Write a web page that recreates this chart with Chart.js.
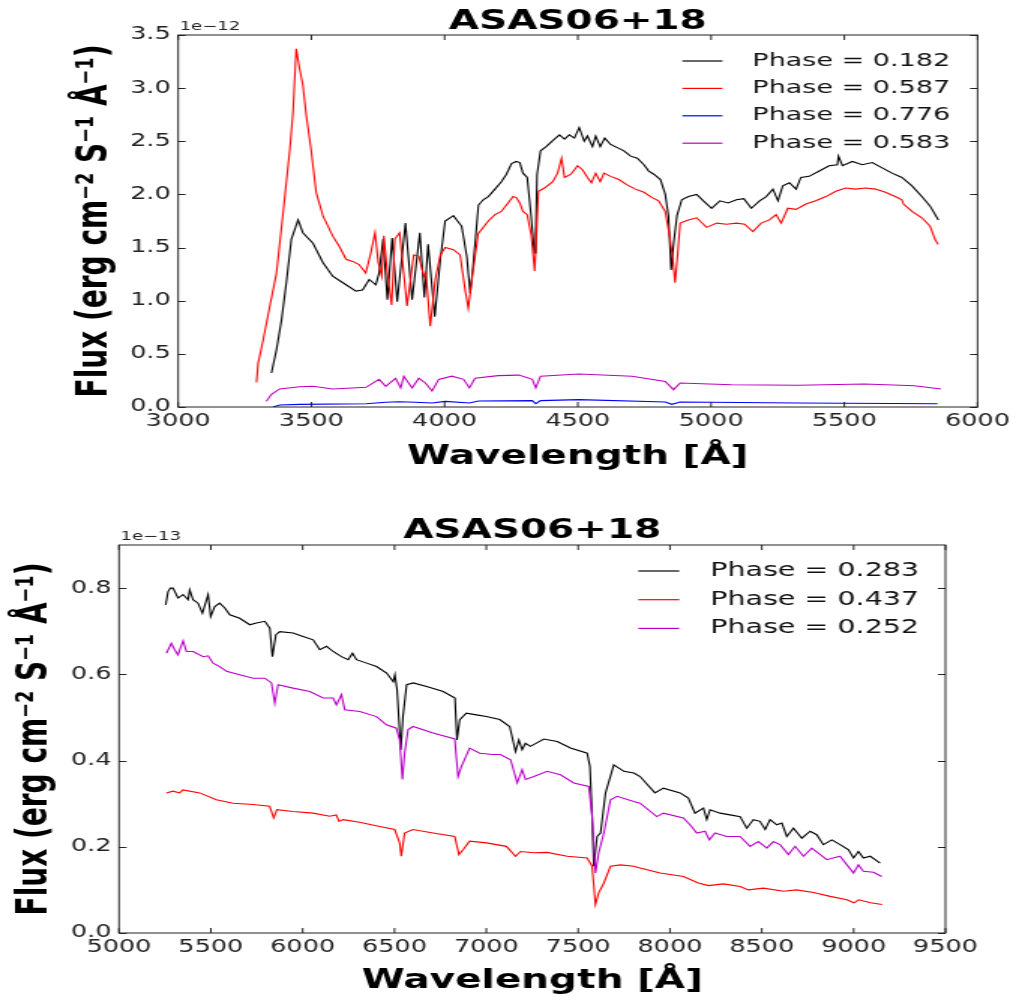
<!DOCTYPE html>
<html>
<head>
<meta charset="utf-8">
<title>ASAS06+18</title>
<script src="https://cdn.jsdelivr.net/npm/chart.js@4.4.1/dist/chart.umd.min.js"></script>
<style>
    html, body { margin: 0; padding: 0; background: #fff; }
    #wrap { position: relative; width: 1016px; height: 1000px; }
    canvas { position: absolute; left: 0; }
</style>
</head>
<body>
<div id="wrap">
    <!-- the source figure is stretched sideways, so draw narrow and let css widen it -->
    <canvas id="topChart" width="677" height="500" style="top:0;width:1016px;height:500px"></canvas>
    <canvas id="bottomChart" width="677" height="500" style="top:500px;width:1016px;height:500px"></canvas>
</div>
<script>
// ---- upper panel (flux in 1e-12) ----
const xTicksTop = [3000, 3500, 4000, 4500, 5000, 5500, 6000];
const yTicksTop = [0.0, 0.5, 1.0, 1.5, 2.0, 2.5, 3.0, 3.5];
const labelsTop = ['Phase = 0.182', 'Phase = 0.587', 'Phase = 0.776', 'Phase = 0.583'];

const wlTop182 = [3350, 3369, 3388, 3406, 3425, 3450, 3468, 3506, 3543, 3580,
    3630, 3667, 3692, 3717, 3742, 3754, 3769, 3785, 3803, 3822,
    3853, 3878, 3907, 3924, 3938, 3963, 3984, 4002, 4033, 4064,
    4083, 4096, 4108, 4127, 4145, 4164, 4189, 4213, 4232, 4251,
    4269, 4282, 4294, 4310, 4323, 4331, 4337, 4342, 4347, 4360,
    4381, 4412, 4431, 4450, 4468, 4487, 4505, 4524, 4536, 4555,
    4567, 4584, 4601, 4623, 4648, 4673, 4698, 4723, 4748, 4766,
    4785, 4810, 4828, 4840, 4850, 4860, 4872, 4890, 4915, 4946,
    4971, 5002, 5033, 5064, 5095, 5123, 5151, 5182, 5207, 5232,
    5251, 5269, 5294, 5319, 5337, 5368, 5406, 5443, 5474, 5478,
    5493, 5530, 5567, 5605, 5642, 5679, 5716, 5754, 5791, 5822,
    5853];
const fluxTop182 = [0.32, 0.54, 0.82, 1.17, 1.58, 1.76, 1.64, 1.54, 1.36, 1.23,
    1.15, 1.09, 1.10, 1.20, 1.15, 1.26, 1.58, 1.01, 1.59, 0.99,
    1.73, 1.01, 1.64, 1.03, 1.53, 0.85, 1.39, 1.75, 1.80, 1.70,
    1.42, 1.07, 1.36, 1.90, 1.95, 1.98, 2.05, 2.12, 2.19, 2.29,
    2.31, 2.30, 2.20, 2.16, 1.84, 1.62, 1.45, 1.64, 2.19, 2.41,
    2.45, 2.52, 2.56, 2.52, 2.56, 2.53, 2.63, 2.50, 2.55, 2.45,
    2.55, 2.45, 2.53, 2.47, 2.44, 2.41, 2.36, 2.34, 2.28, 2.22,
    2.19, 2.14, 2.00, 1.80, 1.29, 1.55, 1.80, 1.95, 1.98, 2.00,
    1.94, 1.87, 1.94, 1.92, 1.95, 1.96, 1.87, 1.94, 1.98, 2.05,
    1.94, 2.08, 2.11, 2.05, 2.16, 2.17, 2.22, 2.27, 2.28, 2.36,
    2.27, 2.31, 2.28, 2.30, 2.25, 2.20, 2.16, 2.08, 1.98, 1.89,
    1.76];

const wlTop587 = [3294, 3300, 3319, 3344, 3369, 3394, 3419, 3431, 3443, 3456,
    3468, 3481, 3499, 3518, 3543, 3580, 3605, 3630, 3655, 3679,
    3704, 3723, 3739, 3751, 3764, 3772, 3785, 3801, 3813, 3831,
    3859, 3884, 3903, 3922, 3930, 3946, 3965, 3984, 4002, 4033,
    4058, 4077, 4089, 4104, 4126, 4164, 4189, 4213, 4238, 4257,
    4269, 4282, 4294, 4310, 4325, 4338, 4345, 4352, 4375, 4406,
    4424, 4439, 4450, 4474, 4499, 4518, 4536, 4551, 4567, 4584,
    4598, 4623, 4654, 4685, 4716, 4748, 4779, 4803, 4828, 4845,
    4856, 4865, 4875, 4884, 4915, 4946, 4983, 5021, 5058, 5095,
    5126, 5157, 5188, 5219, 5244, 5263, 5288, 5319, 5356, 5393,
    5431, 5468, 5505, 5542, 5580, 5617, 5654, 5691, 5716, 5722,
    5754, 5791, 5822, 5840, 5852];
const fluxTop587 = [0.23, 0.41, 0.63, 0.95, 1.26, 1.83, 2.42, 2.77, 3.37, 3.18,
    3.03, 2.74, 2.42, 2.02, 1.80, 1.61, 1.51, 1.39, 1.37, 1.34,
    1.26, 1.45, 1.64, 1.36, 1.23, 1.61, 1.26, 0.96, 1.58, 1.64,
    0.95, 1.43, 1.42, 1.23, 1.26, 0.76, 1.20, 1.43, 1.50, 1.48,
    1.43, 1.10, 0.93, 1.23, 1.63, 1.75, 1.81, 1.84, 1.92, 1.98,
    1.97, 1.92, 1.84, 1.81, 1.62, 1.28, 1.64, 2.03, 2.06, 2.12,
    2.20, 2.34, 2.16, 2.19, 2.27, 2.23, 2.16, 2.11, 2.20, 2.12,
    2.20, 2.17, 2.14, 2.09, 2.05, 2.02, 1.97, 1.94, 1.84, 1.60,
    1.40, 1.17, 1.45, 1.73, 1.76, 1.78, 1.69, 1.73, 1.72, 1.73,
    1.72, 1.65, 1.73, 1.76, 1.81, 1.73, 1.87, 1.86, 1.91, 1.94,
    1.98, 2.03, 2.06, 2.05, 2.06, 2.05, 2.02, 1.98, 1.95, 1.91,
    1.84, 1.78, 1.70, 1.58, 1.53];

const wlTop776 = [3356, 3381, 3456, 3705, 3779, 3829, 3891, 3953, 4002, 4093, 4127, 4329, 4342, 4360, 4504, 4828, 4853, 4884, 5327, 5850];
const fluxTop776 = [0.0, 0.019, 0.025, 0.031, 0.044, 0.05, 0.044, 0.038, 0.053, 0.038, 0.056, 0.06, 0.031, 0.06, 0.069, 0.047, 0.025, 0.047, 0.038, 0.031];

const wlTop583 = [3331, 3350, 3381, 3456, 3506, 3580, 3705, 3754, 3779, 3816, 3835, 3847, 3878, 3903, 3928, 3953, 3978, 4027, 4071, 4093,
    4114, 4201, 4279, 4329, 4342, 4360, 4504, 4703, 4828, 4859, 4884, 5077, 5327, 5576, 5763, 5863];
const fluxTop583 = [0.053, 0.12, 0.17, 0.19, 0.195, 0.17, 0.185, 0.26, 0.195, 0.27, 0.18, 0.29, 0.18, 0.27, 0.226, 0.15, 0.26, 0.29, 0.26, 0.18,
    0.27, 0.295, 0.30, 0.26, 0.18, 0.29, 0.31, 0.29, 0.24, 0.163, 0.226, 0.21, 0.204, 0.217, 0.2, 0.17];

// ---- lower panel (flux in 1e-13) ----
const xTicksBottom = [5000, 5500, 6000, 6500, 7000, 7500, 8000, 8500, 9000, 9500];
const yTicksBottom = [0.0, 0.2, 0.4, 0.6, 0.8];
const labelsBottom = ['Phase = 0.283', 'Phase = 0.437', 'Phase = 0.252'];

const wlBot283 = [5254, 5267, 5280, 5294, 5321, 5349, 5376, 5385, 5403, 5430,
    5454, 5485, 5499, 5521, 5548, 5576, 5603, 5657, 5712, 5748,
    5794, 5821, 5835, 5854, 5875, 5948, 6002, 6057, 6093, 6130,
    6166, 6211, 6248, 6271, 6293, 6348, 6402, 6457, 6493, 6502,
    6514, 6534, 6546, 6566, 6602, 6675, 6765, 6829, 6840, 6855,
    6891, 6946, 7000, 7073, 7127, 7159, 7177, 7195, 7213, 7240,
    7313, 7386, 7458, 7549, 7564, 7576, 7585, 7603, 7622, 7649,
    7694, 7749, 7803, 7837, 7918, 7964, 8055, 8100, 8136, 8182,
    8200, 8218, 8273, 8327, 8382, 8418, 8454, 8490, 8518, 8545,
    8581, 8609, 8636, 8672, 8718, 8763, 8799, 8835, 8881, 8926,
    8972, 8999, 9026, 9053, 9090, 9117, 9144];
const fluxBot283 = [0.761, 0.792, 0.80, 0.80, 0.777, 0.785, 0.773, 0.796, 0.773, 0.765,
    0.742, 0.785, 0.734, 0.757, 0.765, 0.754, 0.738, 0.730, 0.715, 0.719,
    0.723, 0.707, 0.641, 0.692, 0.699, 0.696, 0.688, 0.680, 0.657, 0.665,
    0.653, 0.641, 0.634, 0.649, 0.634, 0.626, 0.618, 0.603, 0.583, 0.599,
    0.564, 0.425, 0.502, 0.576, 0.58, 0.572, 0.560, 0.545, 0.448, 0.495,
    0.51, 0.506, 0.502, 0.495, 0.479, 0.421, 0.448, 0.425, 0.44, 0.433,
    0.45, 0.444, 0.429, 0.417, 0.386, 0.27, 0.155, 0.224, 0.232, 0.325,
    0.39, 0.375, 0.371, 0.363, 0.325, 0.336, 0.325, 0.313, 0.278, 0.29,
    0.263, 0.286, 0.278, 0.274, 0.27, 0.243, 0.263, 0.259, 0.24, 0.263,
    0.251, 0.255, 0.224, 0.243, 0.22, 0.236, 0.228, 0.205, 0.216, 0.205,
    0.193, 0.174, 0.189, 0.174, 0.178, 0.17, 0.162];

const wlBot437 = [5258, 5294, 5330, 5348, 5439, 5530, 5621, 5730, 5820, 5842,
    5860, 5947, 6056, 6147, 6183, 6198, 6220, 6310, 6419, 6501,
    6528, 6537, 6555, 6601, 6710, 6828, 6851, 6873, 6909, 7000,
    7109, 7159, 7186, 7259, 7331, 7440, 7549, 7576, 7594, 7612,
    7640, 7676, 7730, 7803, 7837, 7946, 8073, 8154, 8209, 8291,
    8382, 8427, 8509, 8618, 8690, 8781, 8872, 8963, 9001, 9028,
    9092, 9155];
const fluxBot437 = [0.325, 0.329, 0.325, 0.332, 0.325, 0.309, 0.301, 0.298, 0.294, 0.267,
    0.286, 0.282, 0.278, 0.271, 0.274, 0.259, 0.263, 0.257, 0.247, 0.24,
    0.209, 0.178, 0.232, 0.24, 0.232, 0.224, 0.182, 0.193, 0.213, 0.209,
    0.201, 0.178, 0.189, 0.186, 0.187, 0.178, 0.174, 0.155, 0.066, 0.093,
    0.116, 0.155, 0.158, 0.155, 0.151, 0.139, 0.131, 0.116, 0.11, 0.114,
    0.108, 0.10, 0.104, 0.097, 0.10, 0.094, 0.085, 0.077, 0.07, 0.077,
    0.07, 0.066];

const wlBot252 = [5258, 5285, 5303, 5321, 5349, 5367, 5403, 5458, 5485, 5512,
    5548, 5585, 5657, 5730, 5794, 5830, 5848, 5866, 5948, 6039,
    6111, 6166, 6184, 6211, 6229, 6311, 6402, 6456, 6510, 6528,
    6543, 6555, 6574, 6601, 6710, 6828, 6846, 6864, 6909, 6964,
    7036, 7077, 7132, 7168, 7195, 7213, 7259, 7331, 7404, 7476,
    7558, 7576, 7594, 7612, 7640, 7676, 7712, 7803, 7837, 7928,
    7964, 8073, 8109, 8146, 8191, 8214, 8245, 8309, 8382, 8436,
    8481, 8527, 8563, 8599, 8645, 8681, 8727, 8772, 8854, 8926,
    8999, 9026, 9053, 9108, 9153];
const fluxBot252 = [0.649, 0.672, 0.657, 0.645, 0.678, 0.653, 0.653, 0.641, 0.643, 0.626,
    0.618, 0.607, 0.599, 0.591, 0.591, 0.58, 0.533, 0.576, 0.568, 0.560,
    0.545, 0.545, 0.529, 0.553, 0.518, 0.514, 0.502, 0.483, 0.475, 0.448,
    0.356, 0.417, 0.472, 0.479, 0.464, 0.45, 0.363, 0.386, 0.429, 0.417,
    0.414, 0.414, 0.402, 0.348, 0.379, 0.356, 0.363, 0.375, 0.367, 0.348,
    0.34, 0.27, 0.139, 0.186, 0.232, 0.309, 0.317, 0.305, 0.301, 0.27,
    0.278, 0.267, 0.251, 0.232, 0.236, 0.216, 0.232, 0.224, 0.224, 0.201,
    0.212, 0.197, 0.212, 0.205, 0.182, 0.201, 0.178, 0.197, 0.17, 0.178,
    0.139, 0.158, 0.143, 0.141, 0.131];

Chart.defaults.font.family = '"DejaVu Sans", sans-serif';
Chart.defaults.color = '#222';

function toPoints(wl, flux) {
    return wl.map((w, i) => ({ x: w, y: flux[i] }));
}

function spectrum(label, wl, flux, color, idx) {
    return {
        label: label,
        data: toPoints(wl, flux),
        borderColor: color,
        backgroundColor: color,
        borderWidth: 1.1,
        pointRadius: 0,
        tension: 0,
        fill: false,
        order: -idx // later series on top, like matplotlib
    };
}

// box around the plot, inward ticks on all four sides, offset text and the legend
const frameTicks = {
    id: 'frameTicks',
    afterDatasetsDraw(chart, args, opts) {
        const { ctx, chartArea: a, scales } = chart;
        ctx.save();
        ctx.strokeStyle = '#222';
        ctx.lineWidth = 1;
        ctx.beginPath();
        scales.x.ticks.forEach(t => {
            const px = scales.x.getPixelForValue(t.value);
            ctx.moveTo(px, a.bottom); ctx.lineTo(px, a.bottom - 5);
            ctx.moveTo(px, a.top); ctx.lineTo(px, a.top + 5);
        });
        scales.y.ticks.forEach(t => {
            const py = Math.round(scales.y.getPixelForValue(t.value)) + 0.5;
            ctx.moveTo(a.left, py); ctx.lineTo(a.left + 5, py);
            ctx.moveTo(a.right, py); ctx.lineTo(a.right - 5, py);
        });
        ctx.stroke();
        ctx.strokeRect(a.left, a.top, a.right - a.left, a.bottom - a.top);

        ctx.fillStyle = '#222';
        ctx.font = '12px "DejaVu Sans"';
        ctx.textAlign = 'left';
        ctx.textBaseline = 'bottom';
        ctx.fillText(opts.offsetText, a.left + 1, a.top - 2);

        const lg = opts.legend;
        ctx.font = lg.size + 'px "DejaVu Sans"';
        ctx.textBaseline = 'middle';
        chart.data.datasets.forEach((ds, i) => {
            const y = lg.y + i * lg.gap;
            ctx.strokeStyle = ds.borderColor;
            ctx.lineWidth = 1.2;
            ctx.beginPath();
            ctx.moveTo(lg.x, y);
            ctx.lineTo(lg.x + lg.len, y);
            ctx.stroke();
            ctx.fillStyle = '#111';
            ctx.fillText(ds.label, lg.textX, y);
        });
        ctx.restore();
    }
};

function makeChart(id, datasets, o) {
    return new Chart(document.getElementById(id), {
        type: 'line',
        data: { datasets: datasets },
        plugins: [frameTicks],
        options: {
            responsive: false,
            animation: false,
            devicePixelRatio: 1,
            layout: { padding: { left: 0, right: o.padRight, top: 0, bottom: 0 } },
            plugins: {
                legend: { display: false },
                tooltip: { enabled: false },
                title: {
                    display: true,
                    text: 'ASAS06+18',
                    fullSize: false,
                    color: '#000',
                    font: { size: 26, weight: 'bold', lineHeight: 1 },
                    padding: { top: o.titleTop, bottom: o.titleBottom }
                },
                frameTicks: { offsetText: o.offsetText, legend: o.legend }
            },
            scales: {
                x: {
                    type: 'linear',
                    min: o.xTicks[0],
                    max: o.xTicks[o.xTicks.length - 1],
                    afterBuildTicks: s => { s.ticks = o.xTicks.map(v => ({ value: v })); },
                    afterFit: s => { s.height = o.xAxisHeight; },
                    grid: { display: false, drawTicks: false },
                    border: { display: false },
                    ticks: { font: { size: 17 }, padding: 4, maxRotation: 0, autoSkip: false, callback: v => String(v) },
                    title: {
                        display: true,
                        text: 'Wavelength [Å]',
                        color: '#000',
                        font: { size: 26, weight: 'bold' },
                        padding: { top: 0, bottom: o.xTitleBottom }
                    }
                },
                y: {
                    type: 'linear',
                    min: 0,
                    max: o.yMax,
                    afterBuildTicks: s => { s.ticks = o.yTicks.map(v => ({ value: v })); },
                    afterFit: s => { s.width = o.yAxisWidth; },
                    grid: { display: false, drawTicks: false },
                    border: { display: false },
                    ticks: { font: { size: 17 }, padding: 5, autoSkip: false, callback: v => v.toFixed(1) },
                    title: {
                        display: true,
                        text: 'Flux (erg cm⁻² S⁻¹ Å⁻¹)',
                        color: '#000',
                        font: { size: 28, weight: 'bold' },
                        padding: { top: o.yTitleTop, bottom: 0 }
                    }
                }
            }
        }
    });
}

makeChart('topChart', [
    spectrum(labelsTop[0], wlTop182, fluxTop182, '#000000', 0),
    spectrum(labelsTop[1], wlTop587, fluxTop587, '#ff0000', 1),
    spectrum(labelsTop[2], wlTop776, fluxTop776, '#0000ff', 2),
    spectrum(labelsTop[3], wlTop583, fluxTop583, '#bf00bf', 3)
], {
    xTicks: xTicksTop, yTicks: yTicksTop, yMax: 3.5,
    padRight: 23.7, yAxisWidth: 118.7, xAxisHeight: 93,
    titleTop: 9, titleBottom: 0, xTitleBottom: 27, yTitleTop: 47,
    offsetText: '1e\u221212',
    legend: { x: 454.7, len: 26.7, textX: 501.3, y: 61, gap: 27.4, size: 18 }
});

makeChart('bottomChart', [
    spectrum(labelsBottom[0], wlBot283, fluxBot283, '#000000', 0),
    spectrum(labelsBottom[1], wlBot437, fluxBot437, '#ff0000', 1),
    spectrum(labelsBottom[2], wlBot252, fluxBot252, '#bb00cc', 2)
], {
    xTicks: xTicksBottom, yTicks: yTicksBottom, yMax: 0.9,
    padRight: 47, yAxisWidth: 79.3, xAxisHeight: 67,
    titleTop: 18, titleBottom: 1, xTitleBottom: 2.7, yTitleTop: 6.7,
    offsetText: '1e\u221213',
    legend: { x: 425.3, len: 27.3, textX: 473.3, y: 71, gap: 28.7, size: 19 }
});
</script>
</body>
</html>
